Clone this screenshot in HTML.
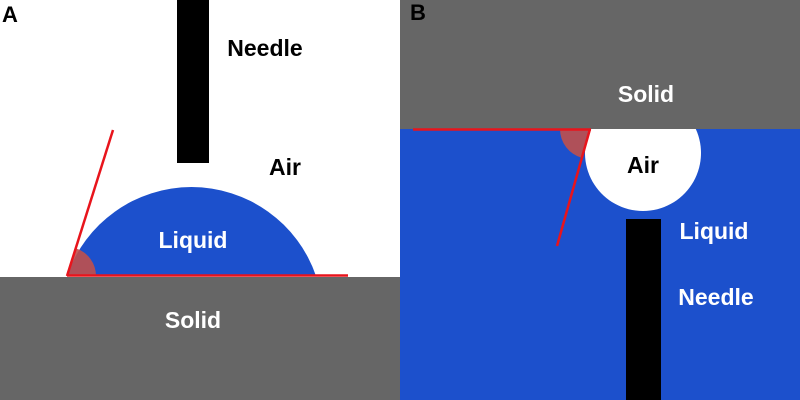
<!DOCTYPE html>
<html><head><meta charset="utf-8"><style>
html,body{margin:0;padding:0;background:#fff;}
svg{display:block}
text{font-family:"Liberation Sans",sans-serif;font-weight:bold;font-size:23px;text-anchor:middle}
</style></head><body>
<svg width="800" height="400" viewBox="0 0 800 400" xmlns="http://www.w3.org/2000/svg">
<!-- Panel A -->
<rect x="0" y="0" width="400" height="400" fill="#fff"/>
<rect x="0" y="277" width="400" height="123" fill="#666666"/>
<rect x="177" y="0" width="32" height="163" fill="#000"/>
<path d="M67,276 A131.6 131.6 0 0 1 316,276 Z" fill="#1c50cc"/>
<path d="M67,276 L96,276 A29 29 0 0 0 75.7,248.3 Z" fill="#c0504d" opacity="0.9"/>
<line x1="67" y1="276" x2="113" y2="130" stroke="#e8141c" stroke-width="2.5"/>
<line x1="67" y1="275.5" x2="348" y2="275.5" stroke="#e8141c" stroke-width="2.5"/>
<text x="265" y="56">Needle</text>
<text x="285" y="175">Air</text>
<text x="193" y="248" fill="#fff">Liquid</text>
<text x="193" y="328" fill="#fff">Solid</text>
<text x="10" y="22" style="font-size:22px">A</text>
<!-- Panel B -->
<rect x="400" y="0" width="400" height="129" fill="#666666"/>
<rect x="400" y="129" width="400" height="271" fill="#1c50cc"/>
<path d="M590.2,129 A58 58 0 1 0 695.8,129 Z" fill="#fff"/>
<path d="M590,129 L560,129 A30 30 0 0 0 581.9,157.9 Z" fill="#c0504d" opacity="0.9"/>
<line x1="413" y1="129.5" x2="591" y2="129.5" stroke="#e8141c" stroke-width="2.5"/>
<line x1="590" y1="129" x2="557" y2="246" stroke="#e8141c" stroke-width="2.5"/>
<rect x="626" y="219" width="35" height="181" fill="#000"/>
<text x="646" y="102" fill="#fff">Solid</text>
<text x="643" y="173">Air</text>
<text x="714" y="239" fill="#fff">Liquid</text>
<text x="716" y="305" fill="#fff">Needle</text>
<text x="418" y="20" style="font-size:22px">B</text>
</svg>
</body></html>
